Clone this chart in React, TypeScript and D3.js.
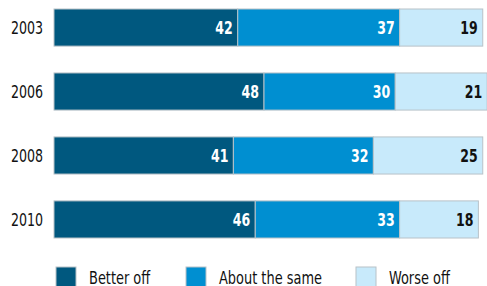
import React, { useRef, useEffect } from 'react';
import * as d3 from 'd3';

const years = ['2003', '2006', '2008', '2010'];
const seriesNames = ['Better off', 'About the same', 'Worse off'];
const betterOff = [42, 48, 41, 46];
const aboutSame = [37, 30, 32, 33];
const worseOff = [19, 21, 25, 18];

const colors = ['#00587f', '#008fd1', '#c8eafb'];
const labelColors = ['#ffffff', '#ffffff', '#111111'];
const FONT = '"DejaVu Sans Condensed", "Liberation Sans Narrow", sans-serif';

const App = () => {
  const svgRef = useRef<SVGSVGElement>(null);

  useEffect(() => {
    const svg = d3.select(svgRef.current);
    svg.selectAll('*').remove();

    const x = d3.scaleLinear().domain([0, 100]).range([54, 491.5]);
    const y = d3.scaleBand().domain(years).range([9, 238]).paddingInner(0.42);

    // stack the three series
    const rows = years.map((yr, i) => ({
      year: yr,
      'Better off': betterOff[i],
      'About the same': aboutSame[i],
      'Worse off': worseOff[i]
    }));
    const stacked = d3.stack<any>().keys(seriesNames)(rows);

    const g = svg.append('g');
    const mid = (yr: string) => y(yr)! + y.bandwidth() / 2;

    stacked.forEach((layer, si) => {
      const lg = g.append('g');
      lg.selectAll('rect')
        .data(layer)
        .join('rect')
        .attr('x', d => x(d[0]))
        .attr('y', d => y(d.data.year)!)
        .attr('width', d => x(d[1]) - x(d[0]))
        .attr('height', y.bandwidth())
        .attr('fill', colors[si])
        .attr('stroke', '#b8c2c8')
        .attr('stroke-width', 1);

      // squeeze text horizontally to mimic the condensed face
      lg.selectAll('text')
        .data(layer)
        .join('text')
        .attr('transform', d => `translate(${x(d[1]) - 5},${mid(d.data.year)}) scale(0.82,1)`)
        .attr('dy', '0.36em')
        .attr('text-anchor', 'end')
        .attr('font-family', FONT)
        .attr('font-weight', 'bold')
        .attr('font-size', 17)
        .attr('fill', labelColors[si])
        .text(d => d[1] - d[0]);
    });

    // year labels
    g.append('g')
      .selectAll('text')
      .data(years)
      .join('text')
      .attr('transform', d => `translate(43,${mid(d)}) scale(0.78,1)`)
      .attr('dy', '0.36em')
      .attr('text-anchor', 'end')
      .attr('font-family', FONT)
      .attr('font-size', 18)
      .attr('fill', '#111')
      .text(d => d);

    // legend
    const legendX = [56, 186, 356];
    const legend = g.append('g')
      .selectAll('g')
      .data(seriesNames)
      .join('g')
      .attr('transform', (d, i) => `translate(${legendX[i]},267)`);

    legend.append('rect')
      .attr('width', 20)
      .attr('height', 22)
      .attr('fill', (d, i) => colors[i])
      .attr('stroke', '#b8c2c8');

    legend.append('text')
      .attr('transform', 'translate(33,17) scale(0.8,1)')
      .attr('font-family', FONT)
      .attr('font-size', 18)
      .attr('fill', '#111')
      .text(d => d);
  }, []);

  return (
    <svg
      ref={svgRef}
      width={487}
      height={286}
      style={{ position: 'absolute', left: 0, top: 0, background: '#fff' }}
    />
  );
};

export default App;
